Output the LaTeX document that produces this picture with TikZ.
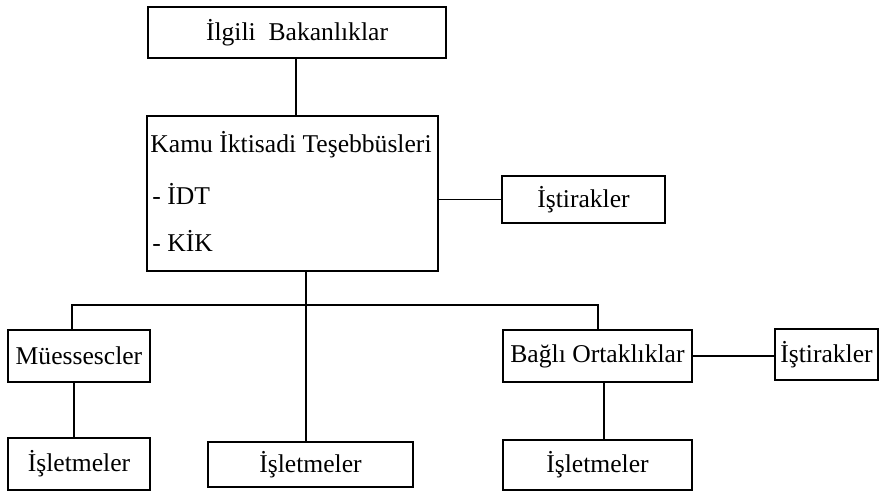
\documentclass[tikz,border=0pt]{standalone}
\usepackage{fontspec}
\setmainfont{Liberation Serif}
\usepackage{tikz}
\usetikzlibrary{positioning,calc}
\tikzstyle{unit} = [rectangle, draw, line width=1.1pt, inner sep=0pt, font=\fontsize{12.8}{15}\selectfont]
\tikzstyle{label} = [inner sep=0pt, font=\fontsize{12.8}{15}\selectfont]
\tikzstyle{link} = [line width=0.9pt]

\begin{document}
\begin{tikzpicture}[x=0.5pt, y=-0.5pt]
    \useasboundingbox (0,0) rectangle (884,496);

    \node[unit, minimum width=149pt, minimum height=25.5pt] (bak) at (297,32.5) {İlgili\ \ Bakanlıklar};

    \node[unit, minimum width=145.5pt, minimum height=77.5pt] (kamu) at (292.5,193.5) {};
    \node[label, anchor=base west] (kamuT) at (150,153) {Kamu\ İktisadi\ Teşebbüsleri};
    \node[label, anchor=base west] (idt) at (152,205) {- İDT};
    \node[label, anchor=base west] (kik) at (152,252) {- KİK};

    \node[unit, minimum width=81.5pt, minimum height=23.5pt] (ist1) at (583.5,199.5) {İştirakler};

    \node[unit, minimum width=71pt, minimum height=26pt] (mue) at (79,356) {Müessescler};
    \node[unit, minimum width=94.5pt, minimum height=26pt] (bag) at (597.5,356) {Bağlı\ Ortaklıklar};
    \node[unit, minimum width=51.5pt, minimum height=25.5pt] (ist2) at (826.5,354.5) {İştirakler};

    \node[unit, minimum width=71pt, minimum height=26pt] (isl1) at (79,464) {İşletmeler};
    \node[unit, minimum width=102.5pt, minimum height=22.5pt] (isl2) at (310.5,464.5) {İşletmeler};
    \node[unit, minimum width=94.5pt, minimum height=25pt] (isl3) at (597.5,465) {İşletmeler};

    % stems and bus
    \coordinate (topstem) at (296,0);
    \coordinate (busL) at (72,305);
    \coordinate (busM) at (306,305);
    \coordinate (busR) at (598,305);
    \coordinate (lstem) at (74,0);
    \coordinate (rstem) at (604,0);

    \draw[link] (bak.south -| topstem) -- (kamu.north -| topstem);
    \draw[link] (kamu.east |- ist1.west) -- (ist1.west);
    \draw[link] (kamu.south -| busM) -- (busM) -- (isl2.north -| busM);
    \draw[link] (mue.north -| busL) -- (busL) -- (busR) -- (bag.north -| busR);
    \draw[link] (mue.south -| lstem) -- (isl1.north -| lstem);
    \draw[link] (bag.east) -- (bag.east -| ist2.west);
    \draw[link] (bag.south -| rstem) -- (isl3.north -| rstem);
\end{tikzpicture}
\end{document}
